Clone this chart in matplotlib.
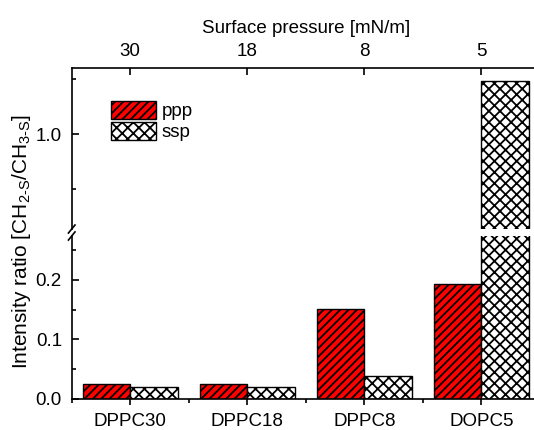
import matplotlib.pyplot as plt
from matplotlib.ticker import MultipleLocator, FormatStrFormatter

plt.rcParams['font.family'] = ['Liberation Sans', 'DejaVu Sans']
plt.rcParams['mathtext.fontset'] = 'custom'
plt.rcParams['mathtext.rm'] = 'Liberation Sans'
plt.rcParams['mathtext.it'] = 'Liberation Sans'
plt.rcParams['mathtext.default'] = 'regular'
plt.rcParams['hatch.linewidth'] = 1.3
plt.rcParams['font.size'] = 13.5

# data
samples = ['DPPC30', 'DPPC18', 'DPPC8', 'DOPC5']
pressure = ['30', '18', '8', '5']
ppp = [0.025, 0.024, 0.151, 0.193]
ssp = [0.019, 0.019, 0.038, 1.097]

x = list(range(len(samples)))
w = 0.405

fig = plt.figure(figsize=(5.34, 4.30), dpi=100)
ax_hi = fig.add_axes([0.1343, 0.4674, 0.8770, 0.3744])
ax_lo = fig.add_axes([0.1343, 0.0728, 0.8770, 0.3784])

for ax in (ax_hi, ax_lo):
    ax.bar([i - w / 2 for i in x], ppp, w, color='#ff0000', edgecolor='black',
           hatch='////', linewidth=1.0, label='ppp')
    ax.bar([i + w / 2 for i in x], ssp, w, color='white', edgecolor='black',
           hatch='xxx', linewidth=1.0, label='ssp')
    ax.set_xlim(-0.5, 3.5)
    ax.spines['right'].set_visible(False)
    ax.spines['left'].set_linewidth(1.2)

ax_hi.set_ylim(0.826, 1.121)
ax_lo.set_ylim(0.0, 0.274)

# upper part: top axis with surface pressure
ax_hi.spines['bottom'].set_visible(False)
ax_hi.spines['top'].set_linewidth(1.2)
ax_hi.xaxis.tick_top()
ax_hi.set_xticks(x)
ax_hi.set_xticklabels(pressure)
ax_hi.xaxis.set_label_position('top')
ax_hi.set_xlabel('Surface pressure [mN/m]', labelpad=7)
ax_hi.tick_params(axis='x', direction='in', length=5, width=1.2, pad=6)
ax_hi.yaxis.set_major_locator(MultipleLocator(0.2))
ax_hi.yaxis.set_minor_locator(MultipleLocator(0.1))
ax_hi.yaxis.set_major_formatter(FormatStrFormatter('%.1f'))

# lower part
ax_lo.spines['top'].set_visible(False)
ax_lo.spines['bottom'].set_linewidth(1.2)
ax_lo.set_xticks(x)
ax_lo.set_xticklabels(samples)
ax_lo.xaxis.set_minor_locator(MultipleLocator(0.5))
ax_lo.tick_params(axis='x', which='major', direction='out', length=4, width=1.2, pad=6)
ax_lo.tick_params(axis='x', which='minor', direction='out', length=3, width=1.2)
ax_lo.yaxis.set_major_locator(MultipleLocator(0.1))
ax_lo.yaxis.set_minor_locator(MultipleLocator(0.05))
ax_lo.yaxis.set_major_formatter(FormatStrFormatter('%.1f'))

for ax in (ax_hi, ax_lo):
    ax.tick_params(axis='y', which='major', direction='in', length=5, width=1.2, pad=7)
    ax.tick_params(axis='y', which='minor', direction='in', length=3, width=1.2)

# break marks on the left spine
dx, dy = 0.007, 0.025
ax_lo.plot([-dx, dx], [1 - dy, 1 + dy], transform=ax_lo.transAxes,
           color='black', lw=1.2, clip_on=False)
ax_hi.plot([-dx, dx], [-dy, dy], transform=ax_hi.transAxes,
           color='black', lw=1.2, clip_on=False)

fig.text(22 / 534, 0.438, 'Intensity ratio [CH$_{2\\text{-}S}$/CH$_{3\\text{-}S}$]',
         rotation=90, ha='center', va='center', fontsize=15)

ax_hi.legend(loc='upper left', bbox_to_anchor=(0.084, 0.797), frameon=False,
             borderpad=0, handlelength=2.4, handleheight=1.1, handletextpad=0.3,
             labelspacing=0.1, borderaxespad=0)

fig.savefig('out.png', dpi=100)
